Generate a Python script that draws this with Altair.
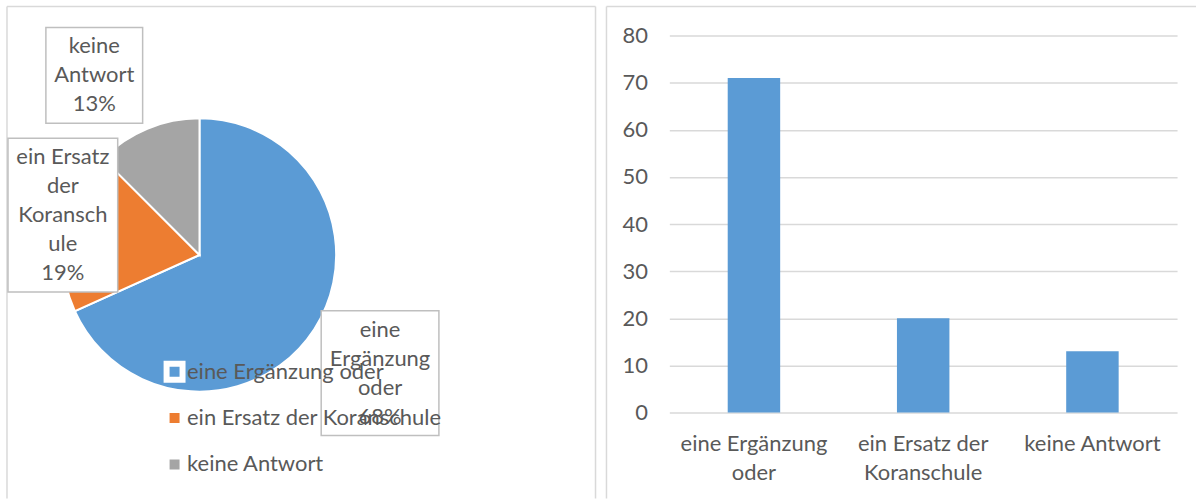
import math
import altair as alt
import pandas as pd

# ---------------- data ----------------
categories = ["eine Ergänzung oder", "ein Ersatz der Koranschule", "keine Antwort"]
values = [71, 20, 13]
colors = ["#5b9bd5", "#ed7d31", "#a5a5a5"]
pie_label_lines = [["eine", "Ergänzung", "oder"],
                   ["ein Ersatz", "der", "Koransch", "ule"],
                   ["keine", "Antwort"]]
bar_label_lines = [["eine Ergänzung", "oder"],
                   ["ein Ersatz der", "Koranschule"],
                   ["keine Antwort"]]
y_ticks = [0, 10, 20, 30, 40, 50, 60, 70, 80]

# ---------------- style / layout ----------------
FONT = "Lato"
TEXT = "#595959"
FRAME = "#d9d9d9"
BOX = "#bfbfbf"
FS = 22
LH = 29

TOP = -29              # frame top relative to the (shared) view top
BOTTOM = 464           # frame bottom relative to the view top
LEFT_W = 590
PIE_CX, PIE_CY, PIE_R = 193, 220, 137
# label boxes (x1, x2, y1, y2) inside the left panel
box_layout = {
    "eine Ergänzung oder": (315, 433, 276, 401),
    "ein Ersatz der Koranschule": (1, 111, 103, 257),
    "keine Antwort": (39, 136, -8, 88),
}
BAR_W, BAR_H = 509, 378

total = sum(values)
pct = [int(math.floor(v / total * 100 + 0.5)) for v in values]

pie_df = pd.DataFrame({"category": categories, "value": values,
                       "order": list(range(len(categories)))})

box_rows = []
for cat, lines, p in zip(categories, pie_label_lines, pct):
    x1, x2, y1, y2 = box_layout[cat]
    all_lines = lines + [f"{p}%"]
    cy = (y1 + y2) / 2
    box_rows.append({"category": cat, "x1": x1, "x2": x2, "y1": y1, "y2": y2,
                     "cx": (x1 + x2) / 2,
                     "ty": cy - (len(all_lines) - 1) * LH / 2,
                     "text": "\n".join(all_lines)})
box_df = pd.DataFrame(box_rows)

bar_df = pd.DataFrame({"category": categories, "value": values,
                       "axis_label": ["|".join(l) for l in bar_label_lines]})


def rule(x1, x2, y1, y2):
    return alt.Chart(pd.DataFrame({"a": [0]})).mark_rule(
        color=FRAME, strokeWidth=1.5).encode(
        x=alt.value(x1), x2=alt.value(x2), y=alt.value(y1), y2=alt.value(y2))


# ---------------- left panel: pie ----------------
pie = alt.Chart(pie_df).mark_arc(outerRadius=PIE_R, stroke="white", strokeWidth=2).encode(
    theta=alt.Theta("value:Q", stack=True),
    color=alt.Color("category:N", sort=categories,
                    scale=alt.Scale(domain=categories, range=colors),
                    legend=alt.Legend(orient="none", legendX=157, legendY=326, title=None,
                                      symbolType="square", symbolSize=256,
                                      symbolStrokeColor="white", symbolStrokeWidth=6,
                                      labelFont=FONT, labelFontSize=FS, labelColor=TEXT,
                                      rowPadding=6.5, labelOffset=1.5, padding=0,
                                      labelLimit=500)),
    order=alt.Order("order:Q"),
    x=alt.value(PIE_CX), y=alt.value(PIE_CY),
)

boxes = alt.Chart(box_df).mark_rect(fill="white", stroke=BOX, strokeWidth=1.5).encode(
    x=alt.X("x1:Q", scale=None, axis=None), x2="x2:Q",
    y=alt.Y("y1:Q", scale=None, axis=None), y2="y2:Q",
)

box_text = alt.Chart(box_df).mark_text(
    font=FONT, fontSize=FS, color=TEXT, lineBreak="\n", lineHeight=LH,
    align="center", baseline="middle").encode(
    x=alt.X("cx:Q", scale=None, axis=None),
    y=alt.Y("ty:Q", scale=None, axis=None),
    text="text:N",
)

left = alt.layer(
    rule(0, 0, TOP, BOTTOM), rule(0, LEFT_W, TOP, TOP), rule(LEFT_W, LEFT_W, TOP, BOTTOM),
    pie, boxes, box_text,
).properties(width=LEFT_W, height=BAR_H)

# ---------------- right panel: bars ----------------
bars = alt.Chart(bar_df).mark_bar(color="#5b9bd5").encode(
    x=alt.X("axis_label:N", sort=None, title=None,
            scale=alt.Scale(paddingInner=0.69, paddingOuter=0.345),
            axis=alt.Axis(labelExpr="split(datum.label, '|')", labelAngle=0,
                          labelFont=FONT, labelFontSize=FS, labelColor=TEXT,
                          labelLineHeight=LH, labelPadding=21, labelLimit=400,
                          domain=False, ticks=False, grid=False)),
    y=alt.Y("value:Q", title=None, scale=alt.Scale(domain=[0, 80]),
            axis=alt.Axis(values=y_ticks, labelFont=FONT, labelFontSize=FS,
                          labelColor=TEXT, labelPadding=22, domain=False,
                          ticks=False, grid=True, gridColor=FRAME, gridWidth=1.5)),
)

right = alt.layer(
    rule(-63, -63, TOP, BOTTOM), rule(-63, 528, TOP, TOP),
    bars,
).properties(width=BAR_W, height=BAR_H)

chart = alt.hconcat(left, right, spacing=9).properties(
    padding={"left": 6, "top": 5, "right": 0, "bottom": 0},
    background="white",
).configure_view(stroke=None)

chart.save("out.html", embed_options={"renderer": "svg", "actions": False})
